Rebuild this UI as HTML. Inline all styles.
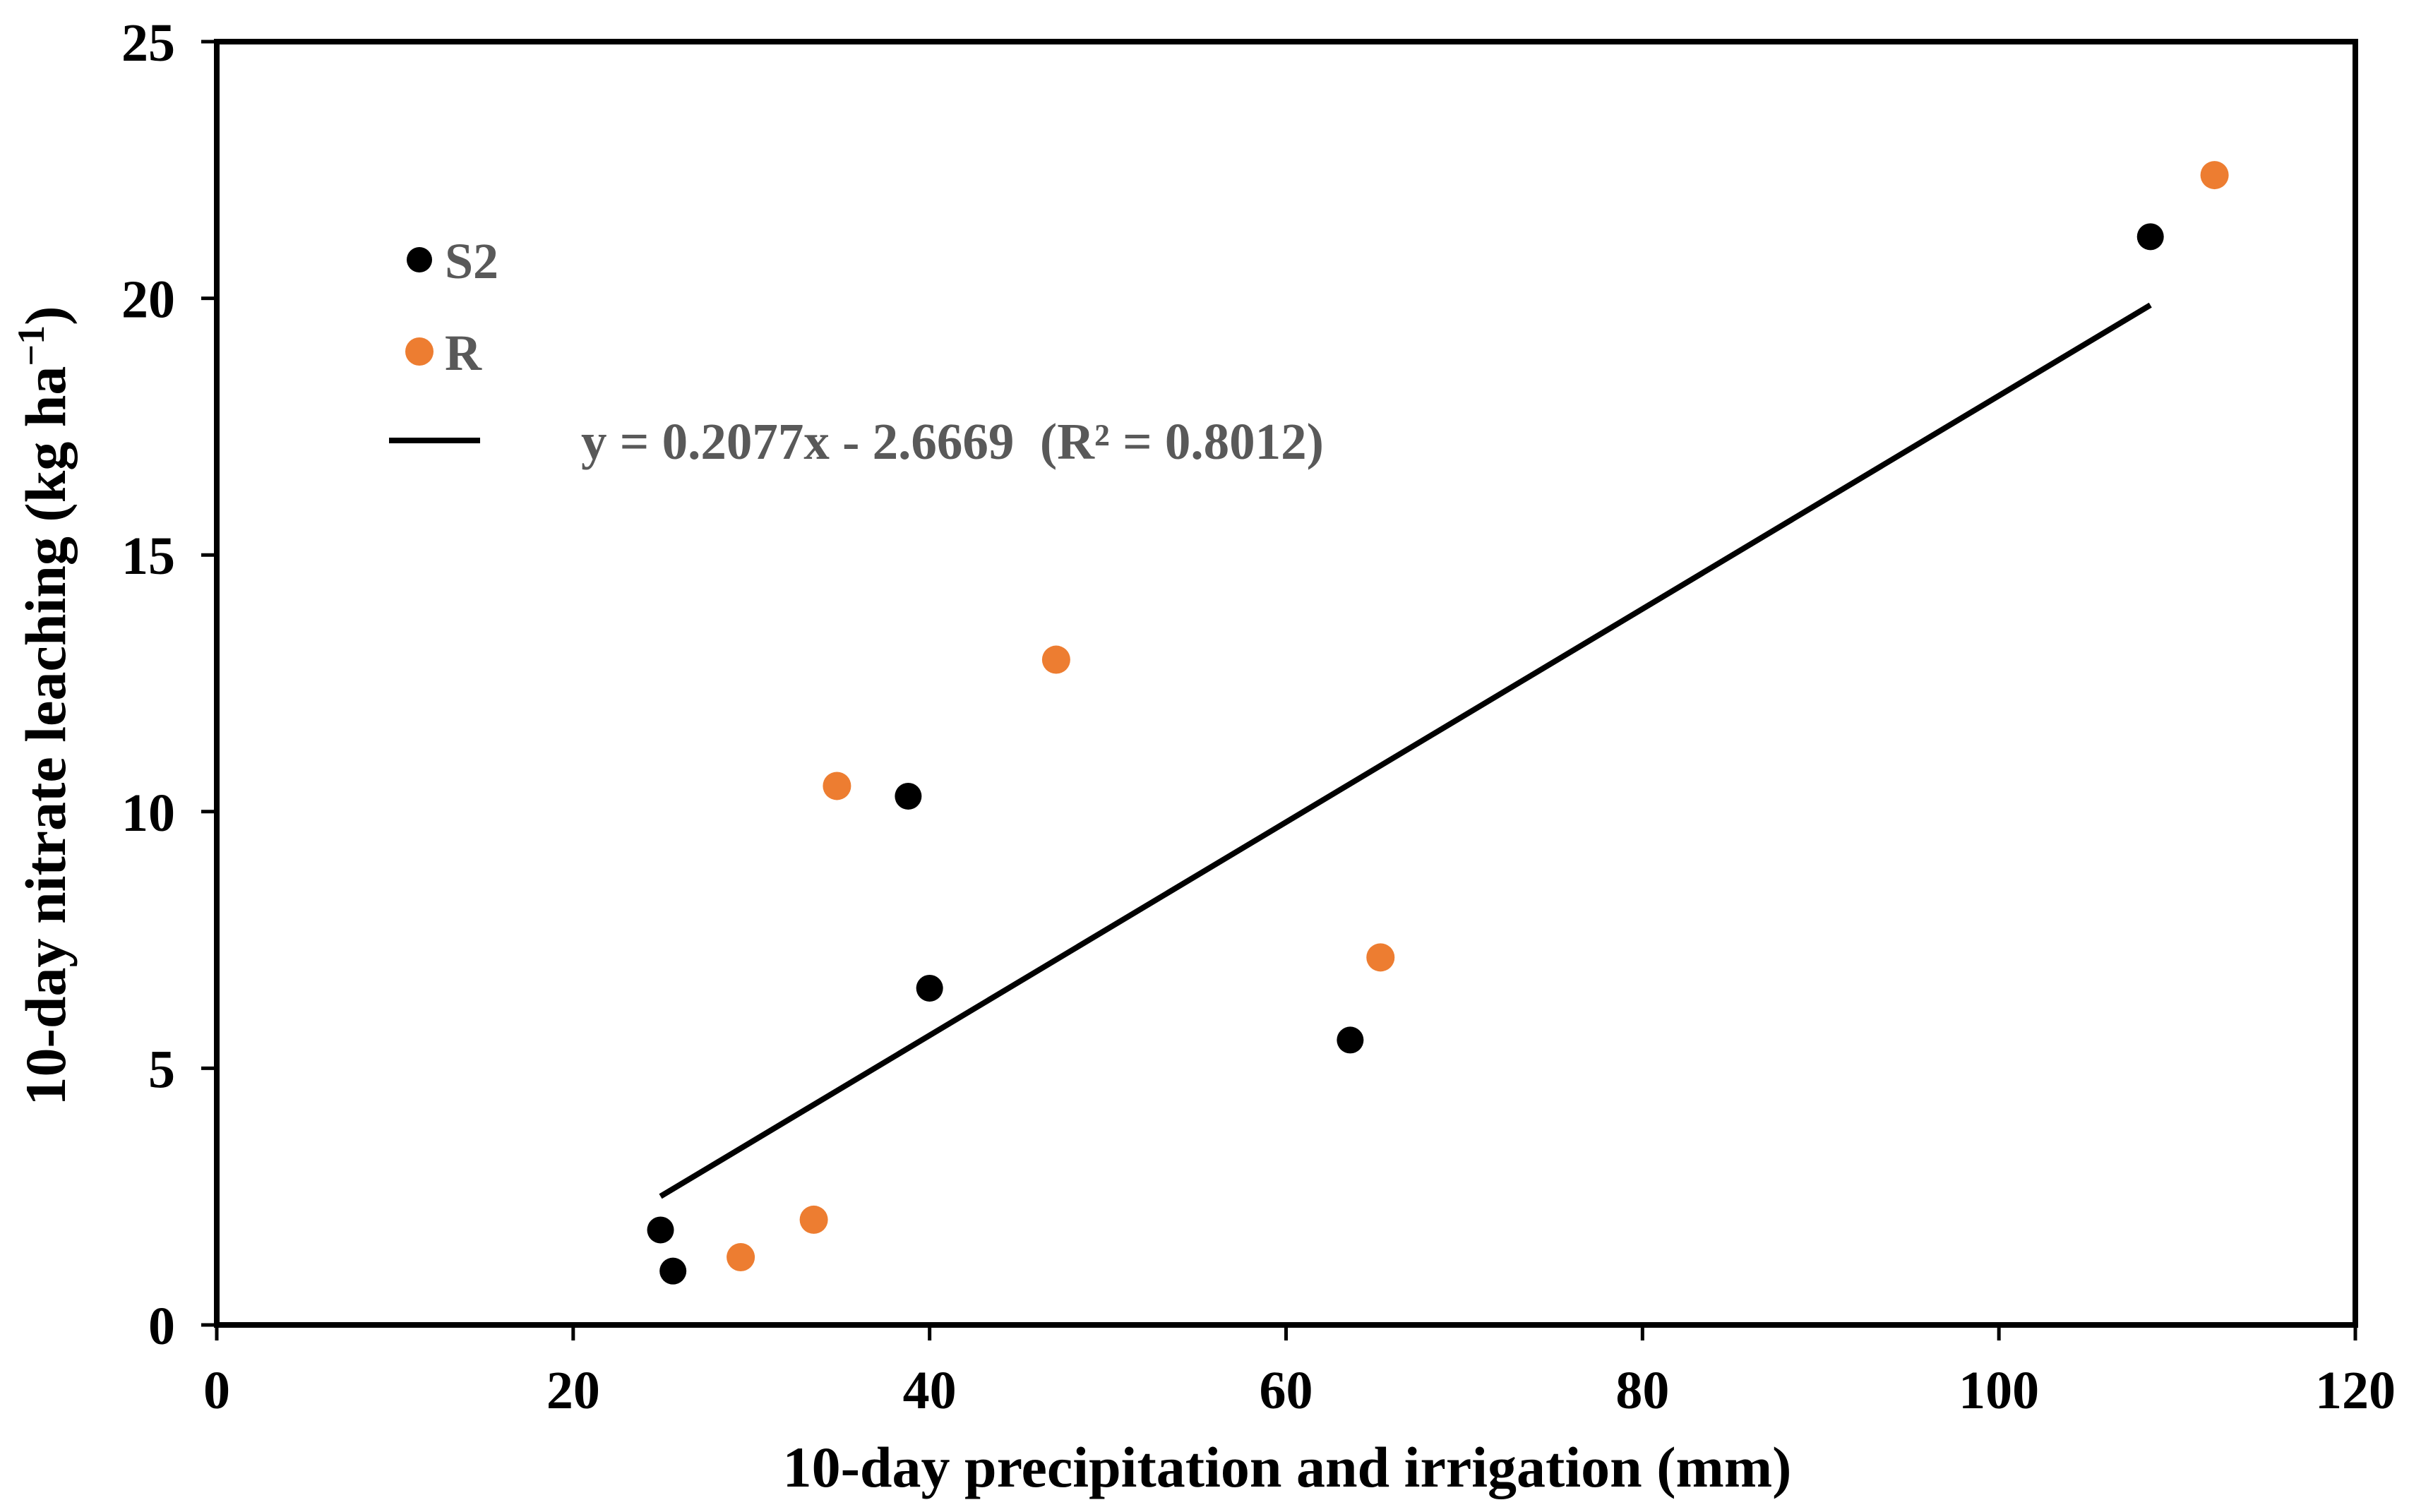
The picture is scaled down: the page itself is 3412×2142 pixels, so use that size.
<!DOCTYPE html>
<html><head><meta charset="utf-8"><style>html,body{margin:0;padding:0;background:#fff}svg{display:block}</style></head>
<body>
<svg id="chart" width="3412" height="2142" viewBox="0 0 3412 2142" xmlns="http://www.w3.org/2000/svg" font-family="'Liberation Serif', serif" font-weight="bold"></svg>
<script>
const xTicks = [0, 20, 40, 60, 80, 100, 120];
const yTicks = [0, 5, 10, 15, 20, 25];
const s2X = [24.9, 25.6, 38.8, 40.0, 63.6, 108.5];
const s2Y = [1.85, 1.05, 10.3, 6.56, 5.55, 21.2];
const rX = [29.4, 33.5, 34.8, 47.1, 65.3, 112.1];
const rY = [1.32, 2.05, 10.5, 12.96, 7.16, 22.4];
const slope = 0.2077, intercept = -2.6669;
const fitRange = [24.9, 108.5];

const svg = document.getElementById('chart');
const NS = 'http://www.w3.org/2000/svg';
const L = 307, R = 3336, T = 59, B = 1877;
const sx = v => L + (v - 0) / 120 * (R - L);
const sy = v => B - (v - 0) / 25 * (B - T);
function mk(tag, attrs, text) {
  const e = document.createElementNS(NS, tag);
  for (const k in attrs) e.setAttribute(k, attrs[k]);
  if (text !== undefined) e.textContent = text;
  svg.appendChild(e);
  return e;
}
let e;
e = mk('rect', {x: L, y: T, width: R - L, height: B - T, fill: 'none', stroke: '#000', 'stroke-width': 8});


xTicks.forEach(v => {
  e = mk('line', {x1: sx(v), x2: sx(v), y1: B, y2: B + 22, stroke: '#000', 'stroke-width': 5});
  
  
  e = mk('text', {x: sx(v), y: 1995, 'font-size': 76, 'text-anchor': 'middle'}, v);
  
  
});
yTicks.forEach(v => {
  e = mk('line', {x1: L - 22, x2: L, y1: sy(v), y2: sy(v), stroke: '#000', 'stroke-width': 5});
  
  
  e = mk('text', {x: 248, y: sy(v) + 27, 'font-size': 76, 'text-anchor': 'end'}, v);
  
  
});
e = mk('text', {x: 1823, y: 2106, 'font-size': 82, 'text-anchor': 'middle'}, '10-day precipitation and irrigation (mm)');


e = mk('text', {x: 0, y: 0, 'font-size': 82, 'text-anchor': 'middle', transform: 'translate(92,1000) rotate(-90)'});


e.innerHTML = '10-day nitrate leaching (kg ha<tspan dy="-30" font-size="54">\u22121</tspan><tspan dy="30">)</tspan>';

e = mk('line', {x1: sx(fitRange[0]), y1: sy(slope * fitRange[0] + intercept), x2: sx(fitRange[1]), y2: sy(slope * fitRange[1] + intercept), stroke: '#000', 'stroke-width': 8});


s2X.forEach((x, i) => {
  e = mk('circle', {cx: sx(x), cy: sy(s2Y[i]), r: 19, fill: '#000'});
  
  
});
rX.forEach((x, i) => {
  e = mk('circle', {cx: sx(x), cy: sy(rY[i]), r: 20, fill: '#ED7D31'});
  
  
});
// legend
e = mk('circle', {cx: 594, cy: 368, r: 18, fill: '#000'});


e = mk('text', {x: 630, y: 394, 'font-size': 72, fill: '#595959'}, 'S2');


e = mk('circle', {cx: 594, cy: 498, r: 20, fill: '#ED7D31'});


e = mk('text', {x: 630, y: 524, 'font-size': 72, fill: '#595959'}, 'R');


e = mk('line', {x1: 551, x2: 680, y1: 624, y2: 624, stroke: '#000', 'stroke-width': 8});


e = mk('text', {x: 823, y: 650, 'font-size': 73, fill: '#595959'}, 'y = 0.2077x - 2.6669\u00a0\u00a0(R\u00b2 = 0.8012)');


</script>
</body></html>
